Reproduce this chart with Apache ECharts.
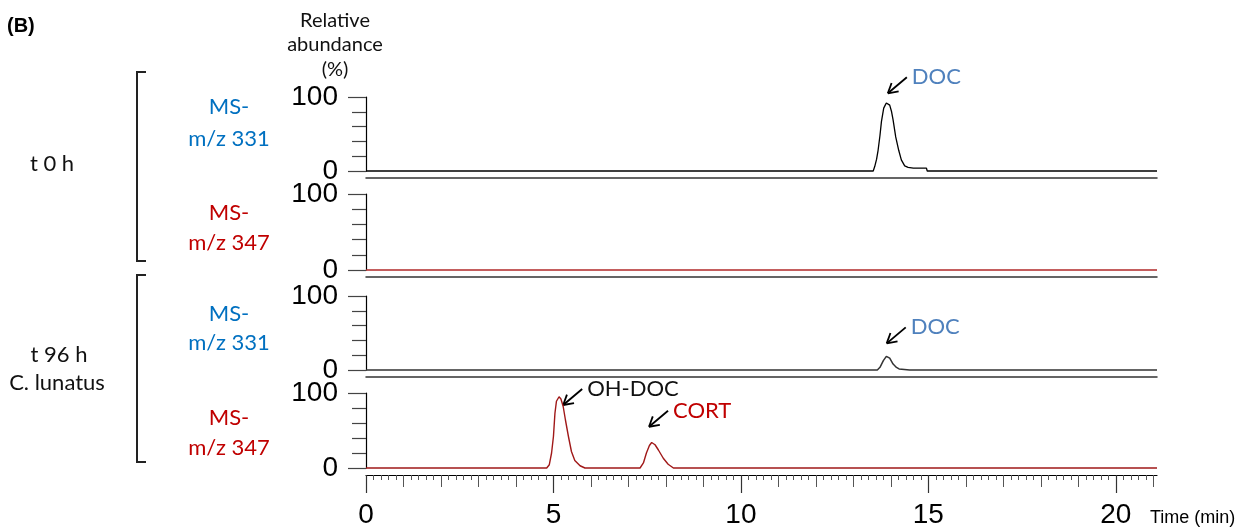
<!DOCTYPE html>
<html><head><meta charset="utf-8">
<script src="https://cdn.jsdelivr.net/npm/echarts@6/dist/echarts.min.js"></script>
<style>html,body{margin:0;padding:0;background:#fff}#c{width:1255px;height:532px}</style>
</head><body><div id="c"></div>
<script>
// ---- data ----
var xMax = 21.1;
var majorTicks = [0, 5, 10, 15, 20];
var midTicks = [1,2,3,4,6,7,8,9,11,12,13,14,16,17,18,19,21];
var minorTicks = [];
for (var k = 1; k <= 105; k++) { if (k % 5 !== 0) minorTicks.push(+(k * 0.2).toFixed(1)); }

// panel 1: t 0 h, MS- m/z 331
var times1 = [0, 13.53, 13.57, 13.62, 13.66, 13.71, 13.75, 13.81, 13.85, 13.88, 13.93, 13.97, 14.02, 14.06, 14.13, 14.21, 14.28, 14.37, 14.46, 14.6, 14.8, 14.95, 14.97, 21.1];
var vals1  = [0, 0, 6, 16, 28, 48, 67, 85, 89, 92, 94, 89, 80, 69, 46, 28, 15, 7, 5, 4, 4, 4, 0, 0];
// panel 2: t 0 h, MS- m/z 347
var times2 = [0, 21.1];
var vals2  = [0, 0];
// panel 3: t 96 h, MS- m/z 331
var times3 = [0, 13.64, 13.71, 13.80, 13.88, 13.97, 14.06, 14.15, 14.22, 14.26, 14.5, 17, 21.1];
var vals3  = [0, 0, 3.6, 12.6, 18.4, 16, 8, 3.5, 1.5, 0, 0, 0, 0];
// panel 4: t 96 h, MS- m/z 347
var times4 = [0, 4.82, 4.89, 4.95, 5.00, 5.04, 5.08, 5.15, 5.20, 5.26, 5.32, 5.40, 5.48, 5.57, 5.71, 5.84, 7.31, 7.40, 7.48, 7.56, 7.62, 7.71, 7.80, 7.93, 8.06, 8.20, 21.1];
var vals4  = [0, 0, 4.4, 20, 42, 73, 89, 95, 92, 82, 64, 42, 22, 10, 3, 0, 0, 6.7, 20, 30, 34, 31, 24, 13, 5, 0, 0];

var panelLabels = [['MS-', 'm/z 331'], ['MS-', 'm/z 347'], ['MS-', 'm/z 331'], ['MS-', 'm/z 347']];
var annotations = [
  {panel: 0, text: 'DOC', t: 13.92, v: 105, color: '#4f81bd'},
  {panel: 2, text: 'DOC', t: 13.89, v: 36, color: '#4f81bd'},
  {panel: 3, text: 'OH-DOC', t: 5.26, v: 84, color: '#111111'},
  {panel: 3, text: 'CORT', t: 7.55, v: 55, color: '#c00000'}
];

// ---- chart ----
var NUM_FONT = 'Liberation Sans, Arial, sans-serif';
var CAL_FONT = 'Lato, sans-serif';
function zip(a, b) { return a.map(function (t, i) { return [t, b[i]]; }); }
var seriesData = [zip(times1, vals1), zip(times2, vals2), zip(times3, vals3), zip(times4, vals4)];
var lineColors = ['#000000', '#b02828', '#333333', '#a01818'];
var lineWidths = [1.3, 1.3, 1.5, 1.4];
var labelColors = ['#0070c0', '#c00000', '#0070c0', '#c00000'];

var gridDefs = [{top: 97, height: 74}, {top: 194, height: 76}, {top: 296, height: 74}, {top: 393, height: 75}];
var grids = gridDefs.map(function (g) { return {left: 366, width: 791, top: g.top, height: g.height}; });

var xAxes = [];
for (var i = 0; i < 3; i++) {
  xAxes.push({type: 'value', gridIndex: i, position: 'bottom', min: 0, max: xMax, offset: 7,
    axisLine: {show: true, onZero: false, lineStyle: {color: '#333', width: 1.5}},
    axisTick: {show: false}, axisLabel: {show: false}, splitLine: {show: false}});
}
xAxes.push({type: 'value', gridIndex: 3, position: 'bottom', min: 0, max: xMax, offset: 7,
  axisLine: {show: true, onZero: false, lineStyle: {color: '#000', width: 1.2}},
  axisTick: {show: true, customValues: majorTicks, length: 18, lineStyle: {color: '#333', width: 1.2}},
  axisLabel: {show: true, customValues: majorTicks, fontSize: 28, fontFamily: NUM_FONT, color: '#000', margin: 26},
  splitLine: {show: false}});
xAxes.push({type: 'value', gridIndex: 3, position: 'bottom', min: 0, max: xMax, offset: 7,
  axisLine: {show: false, onZero: false},
  axisTick: {show: true, customValues: midTicks, length: 12, lineStyle: {color: '#555', width: 1}},
  axisLabel: {show: false}, splitLine: {show: false}});
xAxes.push({type: 'value', gridIndex: 3, position: 'bottom', min: 0, max: xMax, offset: 7,
  axisLine: {show: false, onZero: false},
  axisTick: {show: true, customValues: minorTicks, length: 5, lineStyle: {color: '#555', width: 1}},
  axisLabel: {show: false}, splitLine: {show: false}});

var yAxes = [];
for (var j = 0; j < 4; j++) {
  yAxes.push({type: 'value', gridIndex: j, position: 'left', min: 0, max: 100, interval: 100,
    axisLine: {show: true, onZero: false, lineStyle: {color: '#000', width: 1.2}},
    axisTick: {show: true, length: 18, lineStyle: {color: '#444', width: 1.2}},
    minorTick: {show: true, splitNumber: 5, length: 14, lineStyle: {color: '#444', width: 1.2}},
    axisLabel: {fontSize: 28, fontFamily: NUM_FONT, color: '#000', margin: 28},
    splitLine: {show: false}, minorSplitLine: {show: false}});
}

var series = seriesData.map(function (d, i) {
  return {type: 'line', xAxisIndex: i, yAxisIndex: i, data: d, showSymbol: false, symbol: 'none',
    clip: false, lineStyle: {color: lineColors[i], width: lineWidths[i]}, animation: false};
});

var chart = echarts.init(document.getElementById('c'), null, {renderer: 'canvas'});
chart.setOption({animation: false, backgroundColor: '#fff', grid: grids, xAxis: xAxes, yAxis: yAxes, series: series});

function txt(x, y, text, font, color, align) {
  return {type: 'text', x: x, y: y, silent: true,
    style: {text: text, font: font, fill: color, align: align || 'center', verticalAlign: 'middle'}};
}
function seg(x1, y1, x2, y2, w, c) {
  return {type: 'line', silent: true, shape: {x1: x1, y1: y1, x2: x2, y2: y2}, style: {stroke: c || '#000', lineWidth: w || 1.5}};
}

var graphics = [];
graphics.push(txt(7, 26, '(B)', 'bold 20px ' + NUM_FONT, '#000', 'left'));
graphics.push(txt(335, 21, 'Relative', '20px ' + CAL_FONT, '#111'));
graphics.push(txt(335, 45, 'abundance', '20px ' + CAL_FONT, '#111'));
graphics.push(txt(335, 70, '(%)', '20px ' + CAL_FONT, '#111'));

var labelY = [[107, 139], [213, 243], [314, 343], [418, 448]];
panelLabels.forEach(function (pl, i) {
  graphics.push(txt(229, labelY[i][0], pl[0], '22px ' + CAL_FONT, labelColors[i]));
  graphics.push(txt(229, labelY[i][1], pl[1], '22px ' + CAL_FONT, labelColors[i]));
});
graphics.push(txt(52, 164, 't 0 h', '22px ' + CAL_FONT, '#111'));
graphics.push(txt(59, 355, 't 96 h', '22px ' + CAL_FONT, '#111'));
graphics.push(txt(57, 383, 'C. lunatus', '22px ' + CAL_FONT, '#111'));

// brackets
graphics.push({type: 'polyline', silent: true, shape: {points: [[146, 72], [137, 72], [137, 261], [146, 261]]}, style: {stroke: '#222', lineWidth: 2, fill: null}});
graphics.push({type: 'polyline', silent: true, shape: {points: [[146, 275], [137, 275], [137, 462], [146, 462]]}, style: {stroke: '#222', lineWidth: 2, fill: null}});

// annotation arrows anchored in data space
annotations.forEach(function (a) {
  var tip = chart.convertToPixel({gridIndex: a.panel}, [a.t, a.v]);
  var tail = [tip[0] + 19, tip[1] - 16];
  var dx = tip[0] - tail[0], dy = tip[1] - tail[1];
  var L = Math.sqrt(dx * dx + dy * dy); dx /= L; dy /= L;
  var hl = 11, ang = Math.PI / 6;
  function rot(x, y, t) { return [x * Math.cos(t) - y * Math.sin(t), x * Math.sin(t) + y * Math.cos(t)]; }
  var l1 = rot(-dx, -dy, ang), l2 = rot(-dx, -dy, -ang);
  graphics.push(seg(tail[0], tail[1], tip[0], tip[1], 1.8, '#000'));
  graphics.push(seg(tip[0], tip[1], tip[0] + l1[0] * hl, tip[1] + l1[1] * hl, 1.8, '#000'));
  graphics.push(seg(tip[0], tip[1], tip[0] + l2[0] * hl, tip[1] + l2[1] * hl, 1.8, '#000'));
  graphics.push(txt(tail[0] + 5, tail[1], a.text, '22px ' + CAL_FONT, a.color, 'left'));
});

graphics.push(txt(1150, 518, 'Time (min)', '18px ' + NUM_FONT, '#000', 'left'));

chart.setOption({graphic: graphics});
</script></body></html>
